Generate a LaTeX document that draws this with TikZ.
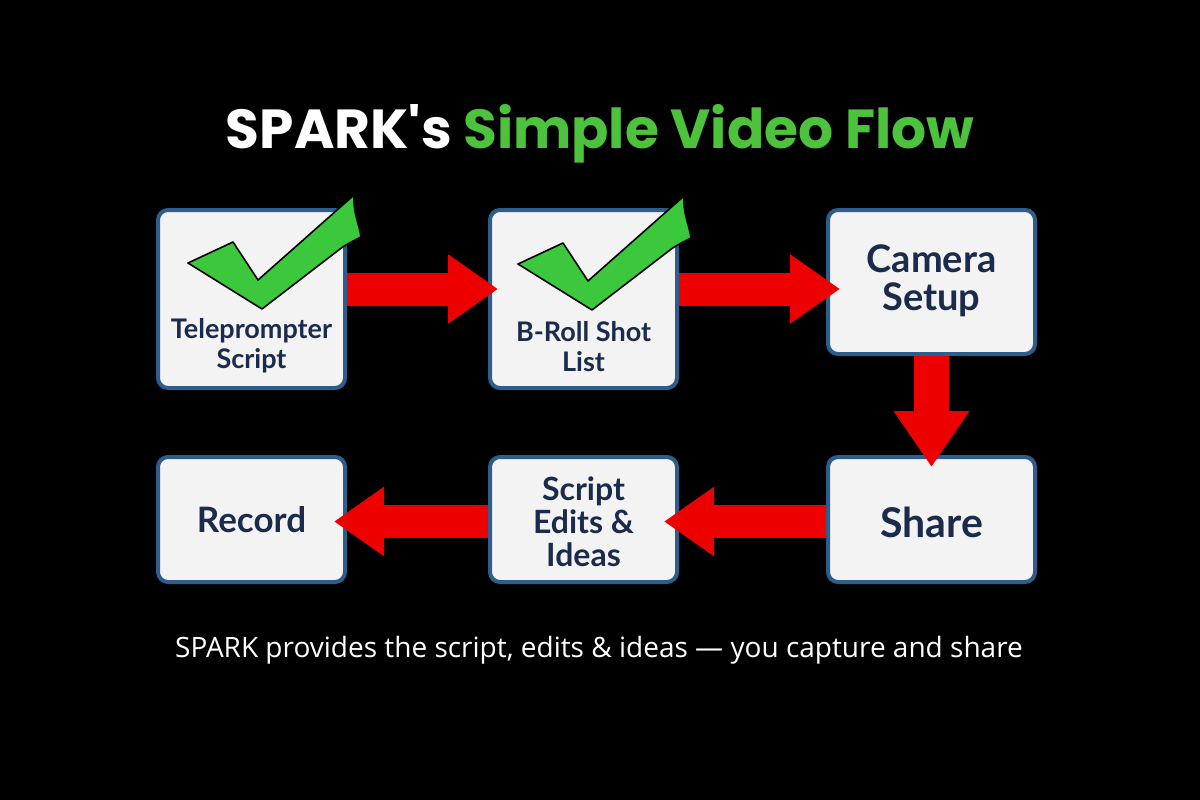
\documentclass[tikz,border=0pt]{standalone}
\usepackage{fontspec}
\usepackage{xcolor}
\usetikzlibrary{arrows.meta, calc, positioning}
\newfontfamily\cardfont{Lato}
\newfontfamily\titlefont{Poppins}
\newfontfamily\subfont{Open Sans}
\definecolor{cardfill}{HTML}{F3F3F3}
\definecolor{cardline}{HTML}{2E5D8C}
\definecolor{cardink}{HTML}{1B2B4B}
\definecolor{flowred}{HTML}{EE0000}
\definecolor{checkgreen}{HTML}{3CC83C}
\definecolor{titlegreen}{HTML}{4DC23C}

\begin{document}
\begin{tikzpicture}[
    x=1pt, y=-1pt,
    card/.style={draw=cardline, line width=4pt, rounded corners=10pt, fill=cardfill, minimum width=#1},
    card/.default=187pt,
    cardtext/.style 2 args={text=cardink, align=center, font=\cardfont\bfseries\fontsize{#1}{#2}\selectfont},
    bigarrow/.style={flowred, line width=33pt, -{Triangle[length=50pt, width=66pt]}},
    tallarrow/.style={flowred, line width=35pt, -{Triangle[length=56pt, width=72pt]}},
    checkmark/.pic={
        \draw[fill=checkgreen, line width=1.6pt, line join=round]
            (0,0) -- (45,-21) -- (70,17) -- (166,-68)
            .. controls (165,-50) and (171,-40) .. (173,-26)
            .. controls (165,-22) and (157,-18) .. (152,-14)
            -- (74,46) -- cycle;
    }
]
\useasboundingbox[fill=black] (0,0) rectangle (1200,800);

% title
\node[anchor=base, font=\titlefont\bfseries\fontsize{55}{60}\selectfont] (title) at (600,148)
    {\color{white}SPARK's \color{titlegreen}Simple Video Flow};

% cards
\node[card, minimum height=178pt] (b1) at (251.5,299) {};
\node[card, minimum height=178pt] (b2) at (583.5,299) {};
\node[card=207pt, minimum height=144pt] (b3) at (931.5,282) {};
\node[card, minimum height=125pt] (b4) at (251.5,519.5) {};
\node[card, minimum height=125pt] (b5) at (583.5,519.5) {};
\node[card=207pt, minimum height=125pt] (b6) at (931.5,519.5) {};

\node[cardtext={27}{30}] (l1) at (251.5,346) {Teleprompter\\Script};
\node[cardtext={27}{30}] (l2) at (583.5,347) {B-Roll Shot\\List};
\node[cardtext={38}{38}] (l3) at (931.5,281) {Camera\\Setup};
\node[cardtext={35}{35}] (l4) at (251.5,520) {Record};
\node[cardtext={32}{33}] (l5) at (583.5,522) {Script\\Edits \&\\Ideas};
\node[cardtext={41}{41}] (l6) at (931.5,522) {Share};

% arrows
\draw[bigarrow] ([yshift=10pt]b1.east) -- ([yshift=10pt, xshift=10pt]b1.east -| b2.west);
\draw[bigarrow] ([yshift=10pt]b2.east) -- ([yshift=10pt, xshift=14pt]b2.east -| b3.west);
\draw[tallarrow] (b3.south) -- ([yshift=-12pt]b6.north);
\draw[bigarrow] ([yshift=-2pt]b6.west) -- ([yshift=-2pt, xshift=-15pt]b6.west -| b5.east);
\draw[bigarrow] ([yshift=-2pt]b5.west) -- ([yshift=-2pt, xshift=-13pt]b5.west -| b4.east);

% checks
\pic at (188,263) {checkmark};
\pic at (518,264) {checkmark};

% footer
\node[anchor=base, text=white, font=\subfont\fontsize{28}{32}\selectfont] (foot) at (599,657)
    {SPARK provides the script, edits \& ideas — you capture and share};
\end{tikzpicture}
\end{document}
